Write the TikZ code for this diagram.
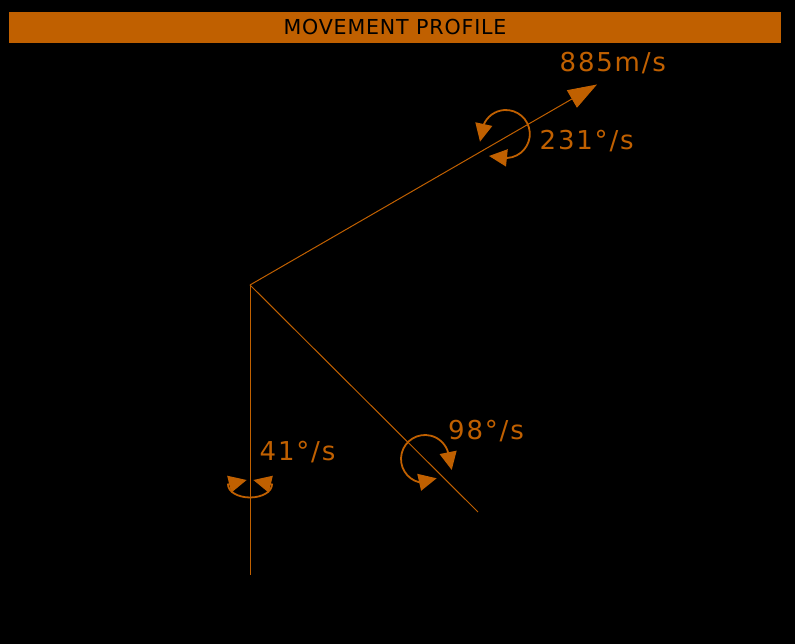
\documentclass[tikz,border=0pt]{standalone}
\usepackage{fontspec}
\usepackage{xcolor}
\usepackage{tikz}
\usetikzlibrary{arrows.meta, positioning}
\definecolor{hudorange}{RGB}{192,96,0}
\newfontfamily\hudfont[LetterSpace=7]{DejaVu Sans}
\newfontfamily\titlefont[LetterSpace=4]{DejaVu Sans}
\tikzset{
    banner/.style={
        rectangle,
        fill=hudorange,
        draw=none,
        minimum width=772pt,
        minimum height=31pt,
        inner sep=0pt,
        text=black,
        font=\fontsize{20.6}{21}\titlefont
    },
    axisline/.style={
        draw=hudorange,
        line width=1pt
    },
    velocity/.style={
        draw=hudorange,
        line width=1pt,
        -{Triangle[length=29pt,width=20pt]}
    },
    spin/.style={
        draw=hudorange,
        line width=1.8pt,
        {Triangle[length=18pt,width=17pt]}-{Triangle[length=18pt,width=17pt]}
    },
    readout/.style={
        text=hudorange,
        anchor=base west,
        inner sep=0pt,
        font=\fontsize{26}{26}\hudfont
    }
}

\begin{document}
\begin{tikzpicture}[x=1pt, y=1pt]

% background
\fill[black] (0,0) rectangle (795,644);

% title bar
\node[banner] (title) at (395,616.5) {MOVEMENT PROFILE};

% axes
\coordinate (origin) at (250,359);
\coordinate (down_end) at (250,69);
\coordinate (vel_tip) at (597,559.5);
\coordinate (diag_end) at (478,132);

\draw[axisline] (origin) -- (down_end);
\draw[axisline] (origin) -- (diag_end);
\draw[velocity] (origin) -- (vel_tip);

% spin on velocity axis
\coordinate (spin1_a) at (489,488);
\coordinate (spin1_b) at (480,502.3);
\draw[spin] (spin1_a) -- (507.5,486.05) arc[start angle=-86, end angle=157.5, radius=24] -- (spin1_b);

% spin on diagonal axis
\coordinate (spin2_a) at (436.7,165.7);
\coordinate (spin2_b) at (451.7,174);
\draw[spin] (spin2_a) -- (419.2,161.7) arc[start angle=-104, end angle=-346, radius=24] -- (spin2_b);

% spin on vertical axis
\coordinate (spin3_a) at (246.7,164);
\coordinate (spin3_b) at (253.3,164);
\draw[spin] (spin3_a) -- (228,159.5) arc[start angle=180, end angle=360, x radius=22, y radius=13] -- (spin3_b);

% readouts
\node[readout] (speed) at (559.5,572.3) {885m/s};
\node[readout] (rate1) at (539.5,494.7) {231°/s};
\node[readout] (rate2) at (448,204) {98°/s};
\node[readout] (rate3) at (259.5,183.3) {41°/s};

\end{tikzpicture}
\end{document}
